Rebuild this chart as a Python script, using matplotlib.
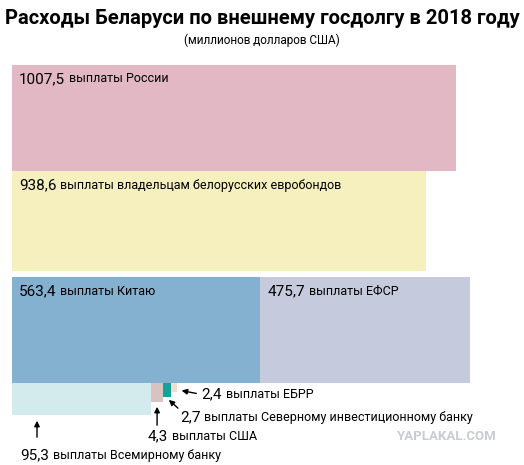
import matplotlib.pyplot as plt
from matplotlib.patches import Rectangle

plt.rcParams["font.family"] = ["Roboto", "DejaVu Sans"]

# values, millions USD
top_names = ["выплаты России", "выплаты владельцам белорусских евробондов"]
top_values = [1007.5, 938.6]
mid_names = ["выплаты Китаю", "выплаты ЕФСР"]
mid_values = [563.4, 475.7]
wb_value = 95.3
small_names = ["выплаты США", "выплаты Северному инвестиционному банку", "выплаты ЕБРР"]
small_values = [4.3, 2.7, 2.4]

PX = 0.4407          # px per million for the big rows
X0 = 12


def fmt(v):
    return f"{v:.1f}".replace(".", ",")


fig = plt.figure(figsize=(5.24, 4.65), dpi=100)
ax = fig.add_axes((0, 0, 1, 1))
ax.set_xlim(0, 524)
ax.set_ylim(465, 0)
ax.axis("off")


def draw_label(x, y, v, name):
    t = ax.text(x, y, fmt(v), fontsize=11, va="center", ha="left")
    fig.canvas.draw()
    bb = t.get_window_extent().transformed(ax.transData.inverted())
    ax.text(bb.x1 + 4, y, name, fontsize=9, va="center", ha="left")


# top rows
rows = [(65, 106, "#e3b8c5"), (171, 100, "#f6f0bf")]
for (y, h, c), v, n in zip(rows, top_values, top_names):
    ax.add_patch(Rectangle((X0, y), v * PX, h, color=c, lw=0))
    draw_label(X0 + 7, y + 14, v, n)

# middle row
x = X0
for v, n, c in zip(mid_values, mid_names, ["#84b1cf", "#c5cbdc"]):
    ax.add_patch(Rectangle((x, 277), v * PX, 106, color=c, lw=0))
    draw_label(x + 7, 291, v, n)
    x += v * PX

# bottom row: same area scale with 32 px height
PXB = PX * 106 / 32
wb_w = wb_value * PXB
ax.add_patch(Rectangle((X0, 383), wb_w, 32, color="#d3ebec", lw=0))
draw_label(20, 455, wb_value, "выплаты Всемирному банку")
ax.annotate("", (37, 418), xytext=(37, 440),
            arrowprops=dict(arrowstyle="-|>", color="black", lw=1, mutation_scale=8))

x = X0 + wb_w
small_colors = ["#d8c3c3", "#13a39b", "#f5dccd"]
small_heights = [19, 14, 9]
tips = []
for v, c, h in zip(small_values, small_colors, small_heights):
    w = v * PXB * 1.9   # tiny payments drawn enlarged to stay visible
    ax.add_patch(Rectangle((x, 383), w, h, color=c, lw=0))
    tips.append((x + w / 2, 383 + h))
    x += w

# USA
draw_label(148, 436, small_values[0], small_names[0])
ax.annotate("", (tips[0][0], tips[0][1] + 2), xytext=(tips[0][0], 428),
            arrowprops=dict(arrowstyle="-|>", color="black", lw=1, mutation_scale=8))
# NIB
draw_label(180, 417, small_values[1], small_names[1])
ax.annotate("", (tips[1][0], tips[1][1] + 1), xytext=(180, 410),
            arrowprops=dict(arrowstyle="-|>", color="black", lw=1, mutation_scale=8))
# EBRD
draw_label(201, 394, small_values[2], small_names[2])
ax.annotate("", (tips[2][0] + 5, 390), xytext=(199, 394),
            arrowprops=dict(arrowstyle="-|>", color="black", lw=1, mutation_scale=8))

ax.text(262, 19, "Расходы Беларуси по внешнему госдолгу в 2018 году",
        fontsize=14.5, fontweight="bold", ha="center", va="center")
ax.text(262, 40, "(миллионов долларов США)", fontsize=8.5, ha="center", va="center")
ax.text(497, 436, "YAPLAKAL.COM", fontsize=9.5, fontweight="bold", color="#c9ccd3",
        ha="right", va="center")

fig.savefig("out.png", dpi=100)
